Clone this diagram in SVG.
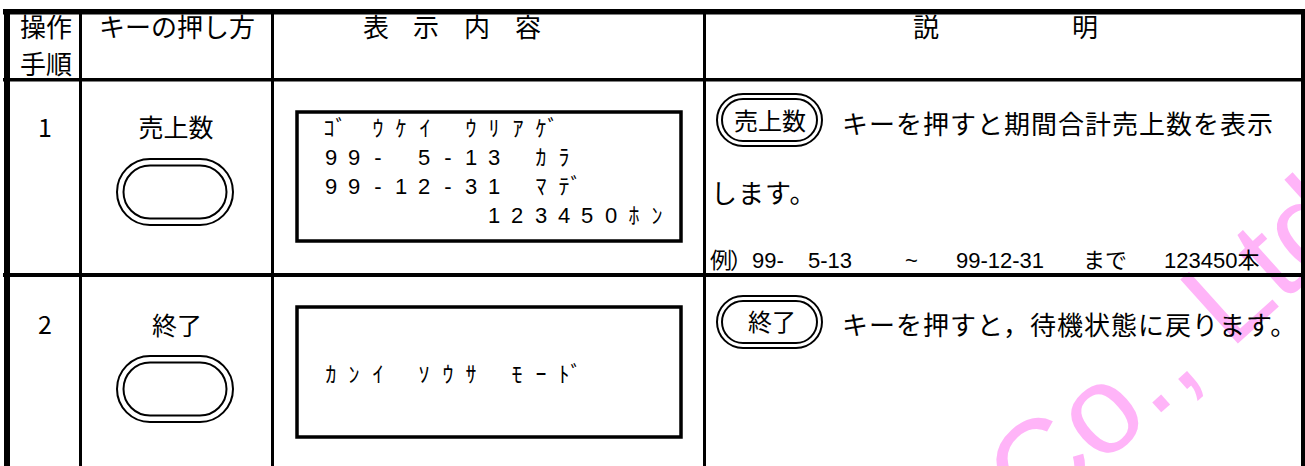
<svg xmlns="http://www.w3.org/2000/svg" width="1305" height="466" viewBox="0 0 1305 466">
<style>
.jp{font-family:"Noto Sans CJK JP","Noto Sans",sans-serif;fill:#000}
.num{font-family:"Liberation Sans","Noto Sans CJK JP",sans-serif;fill:#000}
.h{font-size:26px;text-anchor:middle}
.lab{font-size:25px;text-anchor:middle}
.desc{font-size:26px;letter-spacing:1px}
.lcd{font-family:"Liberation Sans","Noto Sans CJK JP",sans-serif;font-size:22px;text-anchor:middle;fill:#000}
.box{fill:none;stroke:#000;stroke-width:3.5}
.key{fill:none;stroke:#000;stroke-width:2}
.wm{font-family:"Liberation Sans",Arial,sans-serif;font-size:125px;fill:#ffb4f8}
</style>
<rect width="1305" height="466" fill="#fff"/>
<g id="watermark">
<text class="wm" transform="translate(1034,527) rotate(-42)">Co., Ltd</text>
</g>
<g id="grid" fill="#000">
<rect x="3" y="9" width="1302" height="5.5"/>
<rect x="4" y="9" width="6" height="457"/>
<rect x="1301" y="9" width="4" height="457"/>
<rect x="79" y="9" width="3" height="457"/>
<rect x="271" y="9" width="3" height="457"/>
<rect x="703" y="9" width="3" height="457"/>
<rect x="3" y="78" width="1302" height="3.5"/>
<rect x="3" y="273" width="1302" height="4"/>
</g>
<g id="header" class="jp">
<text class="h" x="46" y="37">操作</text>
<text class="h" x="46" y="74">手順</text>
<text class="h" x="177" y="37">キーの押し方</text>
<text class="h" x="376 426 477 528" y="37">表示内容</text>
<text class="h" x="926 1085" y="37">説明</text>
</g>
<g id="row1">
<text class="jp" x="45" y="137" font-size="25" text-anchor="middle">1</text>
<text class="jp lab" x="176" y="137">売上数</text>
<rect class="key" x="117" y="159" width="116" height="66" rx="33"/>
<rect class="key" x="123.5" y="165.5" width="103" height="53" rx="26.5"/>
<rect class="box" x="297" y="112" width="384" height="129"/>
<text class="lcd" y="136" x="329 341 355 378 401 425 448 471 494 518 541 553">ｺﾞ ｳｹｲ ｳﾘｱｹﾞ</text>
<text class="lcd" y="165" x="331 354 378 401 424 448 471 494 517 541 564">99- 5-13 ｶﾗ</text>
<text class="lcd" y="194" x="331 354 378 401 424 448 471 494 517 541 564 576">99-12-31 ﾏﾃﾞ</text>
<text class="lcd" y="223" x="494 517 541 564 587 611 634 657">123450ﾎﾝ</text>
<rect class="key" x="717" y="94" width="105" height="52" rx="26"/>
<rect class="key" x="722" y="99" width="95" height="42" rx="21"/>
<text class="jp" x="770" y="130" font-size="24" text-anchor="middle">売上数</text>
<text class="jp desc" x="842" y="134">キーを押すと期間合計売上数を表示</text>
<text class="jp desc" x="711" y="203">します。</text>
<text class="num" y="268" font-size="22"><tspan class="jp" x="710">例</tspan><tspan class="jp" x="730">）</tspan><tspan x="752">99-</tspan><tspan x="808">5-13</tspan><tspan x="905">~</tspan><tspan x="956">99-12-31</tspan><tspan class="jp" x="1083">まで</tspan><tspan x="1164">123450</tspan><tspan class="jp">本</tspan></text>
</g>
<g id="row2">
<text class="jp" x="45" y="334" font-size="25" text-anchor="middle">2</text>
<text class="jp lab" x="177" y="335">終了</text>
<rect class="key" x="117" y="356" width="116" height="66" rx="33"/>
<rect class="key" x="123.5" y="362.5" width="103" height="53" rx="26.5"/>
<rect class="box" x="297" y="307" width="384" height="130"/>
<text class="lcd" y="382" x="331 354 378 401 424 448 471 494 517 541 564 576">ｶﾝｲ ｿｳｻ ﾓｰﾄﾞ</text>
<rect class="key" x="717" y="296" width="105" height="52" rx="26"/>
<rect class="key" x="722" y="301" width="95" height="42" rx="21"/>
<text class="jp" x="772" y="331" font-size="24" text-anchor="middle">終了</text>
<text class="jp desc" x="842" y="335">キーを押すと，待機状態に戻ります。</text>
</g>
</svg>
